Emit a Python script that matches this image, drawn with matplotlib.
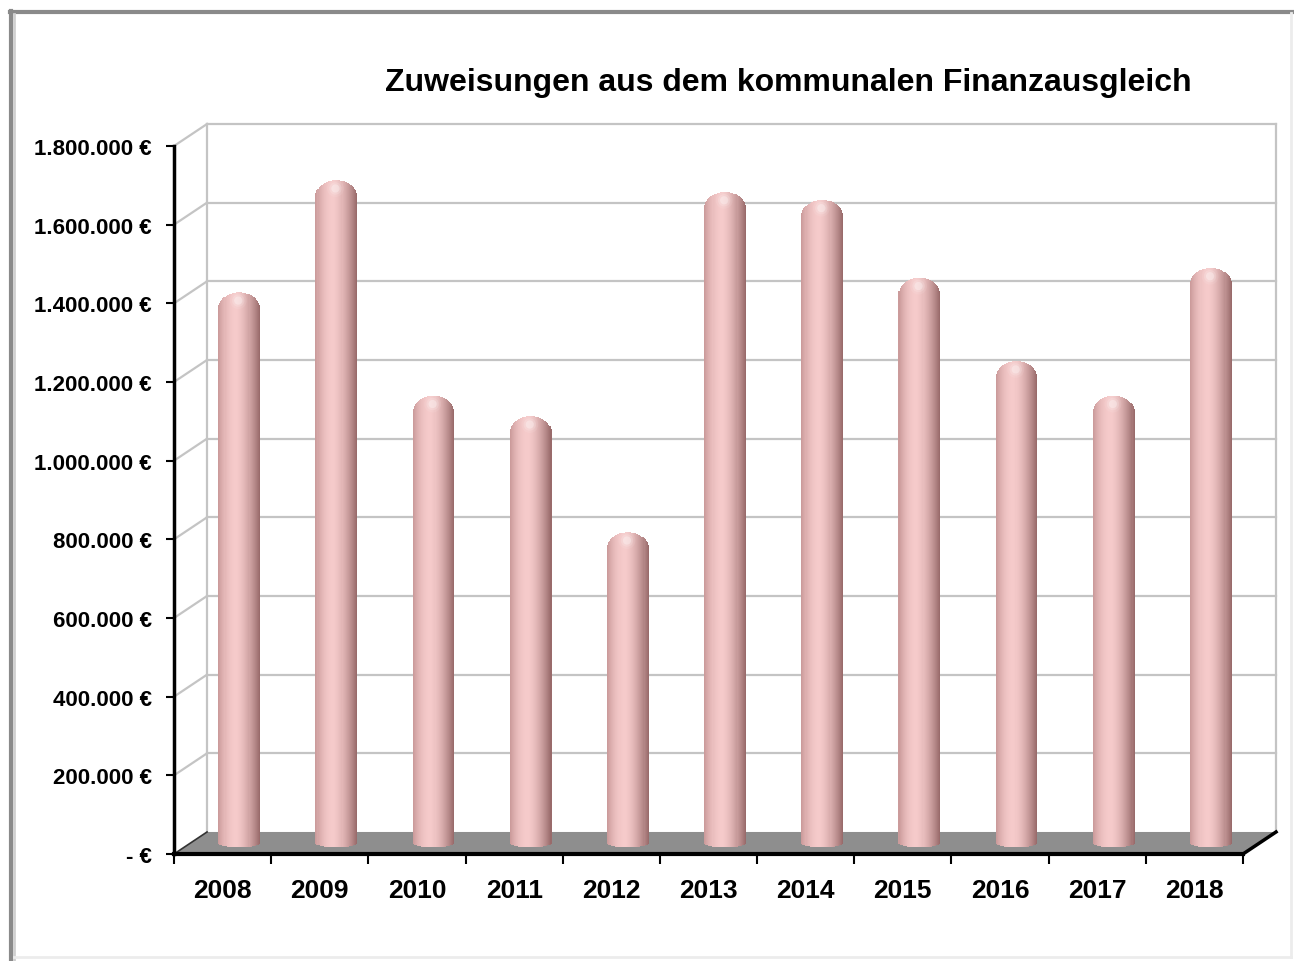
import numpy as np
import matplotlib.pyplot as plt
from matplotlib.patches import Polygon
from matplotlib.lines import Line2D
from matplotlib.ticker import FuncFormatter

years = ['2008', '2009', '2010', '2011', '2012', '2013',
         '2014', '2015', '2016', '2017', '2018']
values = [1400000, 1685000, 1137000, 1085000, 790000, 1655000,
          1635000, 1437000, 1225000, 1137000, 1462000]
yticks = [0, 200000, 400000, 600000, 800000, 1000000,
          1200000, 1400000, 1600000, 1800000]
title = 'Zuweisungen aus dem kommunalen Finanzausgleich'

plt.rcParams['font.family'] = ['Liberation Sans', 'DejaVu Sans']
plt.rcParams['font.weight'] = 'bold'

W, H = 1294, 962
fig = plt.figure(figsize=(W / 100, H / 100), dpi=100)
ax = fig.add_axes([174 / W, 1 - 855 / H, 1069 / W, 708 / H])
ax.set_xlim(-0.5, 10.5)
ax.set_ylim(0, 1800000)

# depth of the fake 3d box, in data units
DX = 0.34
DY = 56000
n = len(years)
x0, x1 = -0.5, n - 0.5

# back wall + side wall grid
for v in yticks[1:]:
    ax.plot([x0 + DX, x1 + DX], [v + DY, v + DY], color='#c4c4c4', lw=1.6,
            clip_on=False, zorder=1)
    ax.plot([x0, x0 + DX], [v, v + DY], color='#c4c4c4', lw=1.6,
            clip_on=False, zorder=1)
for xe in [x0 + DX, x1 + DX]:
    ax.plot([xe, xe], [DY, yticks[-1] + DY], color='#c4c4c4', lw=1.6,
            clip_on=False, zorder=1)

# floor
floor = Polygon([(x0, 0), (x1, 0), (x1 + DX, DY), (x0 + DX, DY)],
                closed=True, facecolor='#8e8e8e', edgecolor='none',
                clip_on=False, zorder=2)
ax.add_patch(floor)
ax.plot([x1, x1 + DX], [0, DY], color='black', lw=2.5, clip_on=False, zorder=3)
ax.plot([x0, x0 + DX], [0, DY], color='#333333', lw=1.2, clip_on=False, zorder=3)

# cylinders made of thin shaded strips
bw = 0.43
ns = 40
cap = 42000
bot = 11000
base = DY / 2
edges = np.linspace(-1, 1, ns + 1)
mids = (edges[:-1] + edges[1:]) / 2
light = np.array([245, 202, 202]) / 255
dark_l = np.array([200, 152, 152]) / 255
dark_r = np.array([150, 104, 104]) / 255
for i, val in enumerate(values):
    cx = i + DX / 2
    for u in mids:
        d = u + 0.15
        if d < 0:
            t = min(1, (-d / 0.85) ** 2)
            c = light * (1 - t) + dark_l * t
        else:
            t = min(1, (d / 1.15) ** 1.6)
            c = light * (1 - t) + dark_r * t
        s = np.sqrt(max(0, 1 - u * u))
        y_bot = base - bot * s
        y_top = base + val - cap * (1 - s)
        ax.bar(cx + u * bw / 2, y_top - y_bot, width=bw / ns * 1.05,
               bottom=y_bot, color=c, edgecolor='none', clip_on=False,
               zorder=4)
    # highlight on the rounded top
    for r, a in [(150, 0.08), (80, 0.15), (35, 0.3)]:
        ax.scatter([cx - bw * 0.02], [base + val - cap * 0.5], s=r,
                   color='white', alpha=a, edgecolors='none',
                   clip_on=False, zorder=5)

# axes styling
for sp in ['top', 'right']:
    ax.spines[sp].set_visible(False)
ax.spines['left'].set_linewidth(2.5)
ax.spines['bottom'].set_linewidth(3)
ax.spines['left'].set_zorder(6)
ax.spines['bottom'].set_zorder(6)

ax.set_yticks(yticks)


def euro(v, pos):
    if v == 0:
        return '- €'
    return '{:,.0f} €'.format(v).replace(',', '.')


ax.yaxis.set_major_formatter(FuncFormatter(euro))
ax.tick_params(axis='y', direction='out', length=6, width=1.5,
               labelsize=16, pad=10)
ax.set_xticks(np.arange(-0.5, n, 1.0))
ax.set_xticklabels([])
ax.tick_params(axis='x', which='major', direction='out', length=7, width=1.5)
ax.set_xticks(np.arange(n), minor=True)
ax.set_xticklabels(years, minor=True)
ax.tick_params(axis='x', which='minor', length=0, labelsize=19, pad=17)
for lab in ax.get_xticklabels(minor=True) + ax.get_yticklabels():
    lab.set_fontweight('bold')
ax.patch.set_alpha(0)

fig.text(788 / W, 1 - 83 / H, title, ha='center', va='center',
         fontsize=23, fontweight='bold')

# outer chart frame
fig.add_artist(Line2D([11 / W, 11 / W], [0, 1 - 12 / H],
                      transform=fig.transFigure, color='#8a8a8a', lw=3))
fig.add_artist(Line2D([10 / W, 1], [1 - 13 / H, 1 - 13 / H],
                      transform=fig.transFigure, color='#8a8a8a', lw=3))
fig.add_artist(Line2D([14 / W, 14 / W], [0, 1 - 15 / H],
                      transform=fig.transFigure, color='#d0d0d0', lw=2))
fig.add_artist(Line2D([1291 / W, 1291 / W], [4 / H, 1 - 14 / H],
                      transform=fig.transFigure, color='#ececec', lw=2))
fig.add_artist(Line2D([14 / W, 1291 / W], [4 / H, 4 / H],
                      transform=fig.transFigure, color='#ececec', lw=2))

fig.savefig('out.png', dpi=100)
